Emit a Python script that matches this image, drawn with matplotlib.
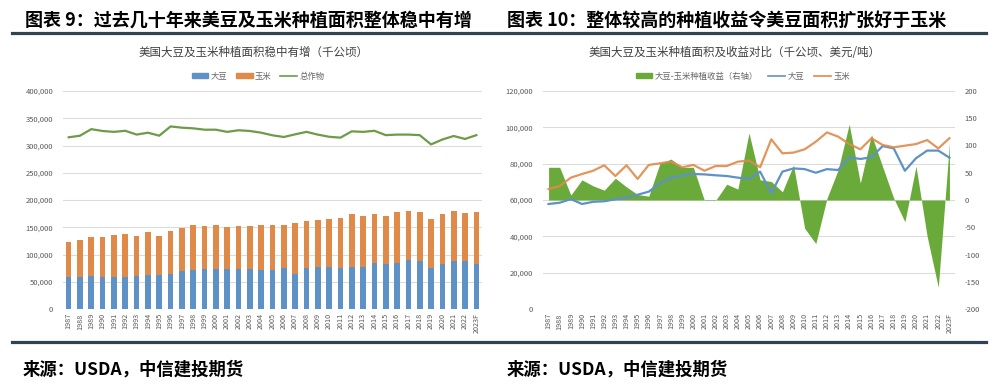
import matplotlib
matplotlib.use('Agg')
import matplotlib.pyplot as plt
from matplotlib.lines import Line2D
from matplotlib.patches import Patch
from matplotlib.ticker import FuncFormatter, MultipleLocator
import numpy as np

plt.rcParams['font.family'] = ['Noto Sans CJK SC', 'DejaVu Sans']
plt.rcParams['axes.unicode_minus'] = False

years = [str(y) for y in range(1987, 2023)] + ['2023F']

# 种植面积（千公顷）
soybean = [57.8, 58.5, 60.5, 57.8, 59.0, 59.3, 60.4, 61.5, 62.9, 64.6, 69.2, 72.3, 73.4, 74.3,
           74.1, 73.6, 73.2, 72.3, 71.6, 75.6, 63.7, 75.6, 77.4, 77.0, 75.0, 77.0, 76.5, 83.5,
           82.6, 83.5, 89.7, 88.4, 76.1, 83.0, 87.2, 87.2, 83.3]
corn = [66.0, 67.7, 72.3, 74.3, 76.1, 79.1, 73.2, 79.1, 71.6, 79.3, 80.2, 81.1, 78.0, 79.3,
        76.1, 78.7, 78.7, 81.1, 81.7, 78.0, 93.4, 85.7, 86.1, 87.9, 92.1, 97.2, 94.9, 90.8,
        87.9, 94.0, 90.3, 89.0, 89.9, 90.8, 93.0, 88.4, 94.0]
total_crops = [315, 318, 330, 326.6, 325, 327, 320, 323.5, 318, 335, 332.7, 331.5, 329, 329,
               325, 328, 326.6, 323.5, 318.7, 315.6, 320.5, 325, 320, 316, 314.4, 326, 325, 327,
               319, 320, 320, 319, 302, 311, 317.4, 312, 319]
# 大豆-玉米种植收益（美元/吨，右轴）
margin = [60, 60, 9, 37, 26, 18, 40, 24, 10, 7, 67, 75, 60, 60, -1, -1, 29, 20, 123, 37,
          34, 15, 64, -52, -80, 3, 55, 139, 31, 120, 61, 3, -40, 62, -67, -160, 104]

soybean = np.array(soybean) * 1000
corn = np.array(corn) * 1000
total_crops = np.array(total_crops) * 1000

C_BLUE = '#5E92C6'
C_ORANGE = '#E08A4A'
C_GREEN_LINE = '#6E9B48'
C_GREEN_AREA = '#6AAA3A'
C_GRID = '#DCDCDC'
C_TICK = '#595959'
C_RULE = '#2E4450'

W, H = 1001, 392
fig = plt.figure(figsize=(W / 100, H / 100), dpi=100)


def fx(px):
    return px / W


def fy(py):
    return 1 - py / H


thousands = FuncFormatter(lambda v, p: f'{v:,.0f}')
x = np.arange(len(years))


def style_axis(ax):
    for s in ax.spines.values():
        s.set_visible(False)
    ax.tick_params(length=0, labelsize=5.5, colors=C_TICK)
    ax.set_xticks(x)
    ax.set_xticklabels(years, rotation=90)
    ax.tick_params(axis='x', pad=3, labelsize=5.2)
    ax.tick_params(axis='y', pad=7)
    ax.grid(axis='y', color=C_GRID, linewidth=0.8)
    ax.set_axisbelow(True)
    ax.set_xlim(-0.5, len(years) - 0.5)


# ---- 图表 9
ax1 = fig.add_axes([fx(63), fy(309), fx(482) - fx(63), fy(91) - fy(309)])
style_axis(ax1)
ax1.bar(x, soybean, width=0.5, color=C_BLUE, label='大豆')
ax1.bar(x, corn, width=0.5, bottom=soybean, color=C_ORANGE, label='玉米')
ax1.plot(x, total_crops, color=C_GREEN_LINE, lw=1.6, label='总作物')
ax1.set_ylim(0, 400000)
ax1.yaxis.set_major_locator(MultipleLocator(50000))
ax1.yaxis.set_major_formatter(thousands)

h1 = [Patch(color=C_BLUE, label='大豆'), Patch(color=C_ORANGE, label='玉米'),
      Line2D([], [], color=C_GREEN_LINE, lw=1.2, label='总作物')]
fig.legend(handles=h1, loc='center', bbox_to_anchor=(fx(258), fy(76)), ncol=3, frameon=False,
           fontsize=6, labelcolor='#666666', handlelength=2.0, handleheight=0.5,
           columnspacing=1.0, handletextpad=0.3)

# ---- 图表 10
ax2 = fig.add_axes([fx(543), fy(309), fx(955) - fx(543), fy(91) - fy(309)])
style_axis(ax2)
ax2.set_ylim(0, 120000)
ax2.yaxis.set_major_locator(MultipleLocator(20000))
ax2.yaxis.set_major_formatter(thousands)

ax3 = ax2.twinx()
for s in ax3.spines.values():
    s.set_visible(False)
ax3.fill_between(x, 0, margin, color=C_GREEN_AREA, lw=0, zorder=1)
ax3.set_ylim(-200, 200)
ax3.yaxis.set_major_locator(MultipleLocator(50))
ax3.tick_params(length=0, labelsize=5.5, colors=C_TICK, pad=7)

# 面积线画在右轴上，换算回左轴刻度
ax3.plot(x, soybean / 1000 * (400 / 120) - 200, color=C_BLUE, lw=1.6, zorder=3)
ax3.plot(x, corn / 1000 * (400 / 120) - 200, color=C_ORANGE, lw=1.6, zorder=3, alpha=0.9)

h2 = [Patch(color=C_GREEN_AREA, label='大豆-玉米种植收益（右轴）'),
      Line2D([], [], color=C_BLUE, lw=1.2, label='大豆'),
      Line2D([], [], color=C_ORANGE, lw=1.2, label='玉米')]
fig.legend(handles=h2, loc='center', bbox_to_anchor=(fx(743), fy(76)), ncol=3, frameon=False,
           fontsize=6, labelcolor='#666666', handlelength=2.0, handleheight=0.5,
           columnspacing=1.2, handletextpad=0.3)

# ---- 标题、副标题、来源
fig.text(fx(25), fy(20), '图表 9：过去几十年来美豆及玉米种植面积整体稳中有增', fontsize=13,
         weight='bold', va='center', ha='left')
fig.text(fx(507), fy(20), '图表 10：整体较高的种植收益令美豆面积扩张好于玉米', fontsize=13,
         weight='bold', va='center', ha='left')
fig.text(fx(254), fy(52), '美国大豆及玉米种植面积稳中有增（千公顷）', fontsize=8.3,
         color='#404040', va='center', ha='center')
fig.text(fx(735), fy(52), '美国大豆及玉米种植面积及收益对比（千公顷、美元/吨）', fontsize=8.3,
         color='#404040', va='center', ha='center')
fig.text(fx(23), fy(370), '来源：USDA，中信建投期货', fontsize=12.5, weight='bold',
         va='center', ha='left')
fig.text(fx(507), fy(370), '来源：USDA，中信建投期货', fontsize=12.5, weight='bold',
         va='center', ha='left')

for yy in (33, 342):
    fig.add_artist(Line2D([fx(12), fx(986)], [fy(yy), fy(yy)], color=C_RULE, lw=2.3))

fig.savefig('out.png', dpi=100)
